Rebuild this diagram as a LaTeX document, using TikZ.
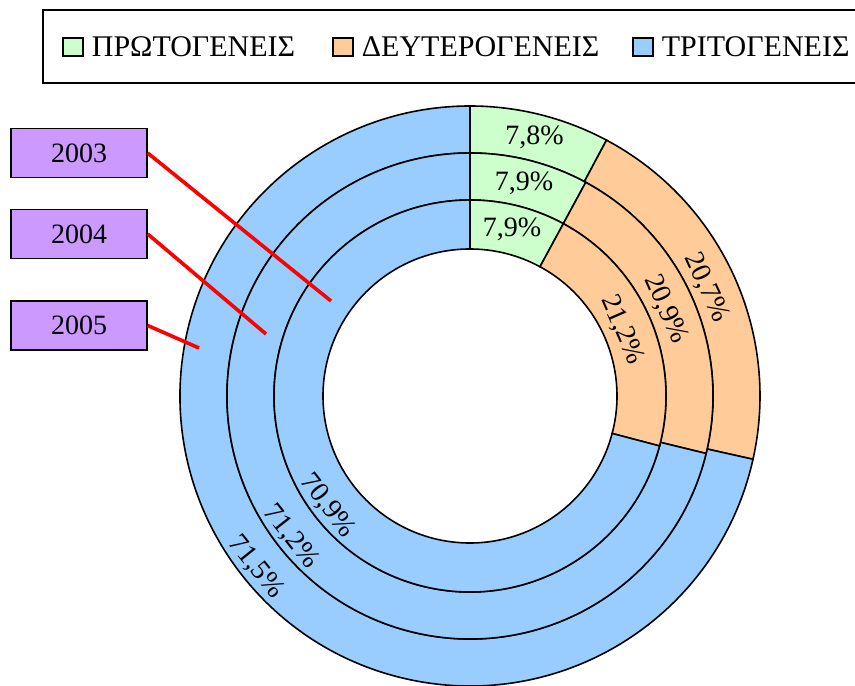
\documentclass[tikz,border=0pt]{standalone}
\usepackage{fontspec}
\setmainfont{Liberation Serif}
\usetikzlibrary{calc,positioning}
\definecolor{prim}{HTML}{CCFFCC}
\definecolor{deut}{HTML}{FFCC99}
\definecolor{trit}{HTML}{99CCFF}
\definecolor{yearfill}{HTML}{CC99FF}
\def\ringpart[#1](#2)(#3:#4:#5:#6){\draw[#1] ($(#2)+(#3:#6)$) arc (#3:#4:#6) -- ($(#2)+(#4:#5)$) arc (#4:#3:#5) -- cycle;}
\tikzset{
	ring/.style={line width=1.6pt, draw=black},
	yearbox/.style={draw, line width=1.4pt, fill=yearfill, minimum width=136pt, minimum height=49pt, inner sep=0pt},
	keybox/.style={draw, line width=1.4pt, minimum width=20pt, minimum height=18pt, inner sep=0pt},
	keytext/.style={inner sep=2pt, right=6pt of #1, font=\fontsize{30}{34}\selectfont},
	pointer/.style={red, line width=3.6pt}
}

\begin{document}
\begin{tikzpicture}[x=1pt, y=1pt, font=\fontsize{28}{32}\selectfont]
		%%%%% START %%%%%
		\useasboundingbox (0, 0) rectangle (855, 686);
		
		\draw[line width=1.2pt] (43, 603) rectangle (875, 676);
		\node[keybox, fill=prim] (kprim) at (73, 639) {};
		\node[keytext=kprim] (tprim) {ΠΡΩΤΟΓΕΝΕΙΣ};
		\node[keybox, fill=deut] (kdeut) at (343, 639) {};
		\node[keytext=kdeut] (tdeut) {ΔΕΥΤΕΡΟΓΕΝΕΙΣ};
		\node[keybox, fill=trit] (ktrit) at (643, 639) {};
		\node[keytext=ktrit] (ttrit) {ΤΡΙΤΟΓΕΝΕΙΣ};
		
		\coordinate (c) at (470, 290);
		
		\ringpart[ring, fill=prim](c)(90:61.92:243:290);
		\ringpart[ring, fill=deut](c)(61.92:-12.6:243:290);
		\ringpart[ring, fill=trit](c)(-12.6:-270:243:290);
		
		\ringpart[ring, fill=prim](c)(90:61.56:196:243);
		\ringpart[ring, fill=deut](c)(61.56:-13.68:196:243);
		\ringpart[ring, fill=trit](c)(-13.68:-270:196:243);
		
		\ringpart[ring, fill=prim](c)(90:61.56:147:196);
		\ringpart[ring, fill=deut](c)(61.56:-14.76:147:196);
		\ringpart[ring, fill=trit](c)(-14.76:-270:147:196);
		
		\node (p2005) at ($(c)+(75.96:266.5)$) {7,8\%};
		\node[rotate=-65.34] (s2005) at ($(c)+(24.66:260)$) {20,7\%};
		\node[rotate=-51.3] (t2005) at ($(c)+(218.7:274)$) {71,5\%};
		
		\node (p2004) at ($(c)+(75.78:219.5)$) {7,9\%};
		\node[rotate=-66.06] (s2004) at ($(c)+(23.94:214)$) {20,9\%};
		\node[rotate=-51.8] (t2004) at ($(c)+(218.2:228)$) {71,2\%};
		
		\node (p2003) at ($(c)+(75.78:171.5)$) {7,9\%};
		\node[rotate=-66.6] (s2003) at ($(c)+(23.4:166)$) {21,2\%};
		\node[rotate=-52.4] (t2003) at ($(c)+(217.6:180)$) {70,9\%};
		
		\coordinate (e2003) at (331, 385);
		\coordinate (e2004) at (266, 352);
		\coordinate (e2005) at (199, 338);
		
		\node[yearbox] (y2003) at (79, 533) {2003};
		\node[yearbox] (y2004) at (79, 452) {2004};
		\node[yearbox] (y2005) at (79, 360.5) {2005};
		
		\draw[pointer] (y2003.east) -- (e2003);
		\draw[pointer] (y2004.east) -- (e2004);
		\draw[pointer] (y2005.east) -- (e2005);
		
		%%%%% END %%%%%
	\end{tikzpicture}
\end{document}
